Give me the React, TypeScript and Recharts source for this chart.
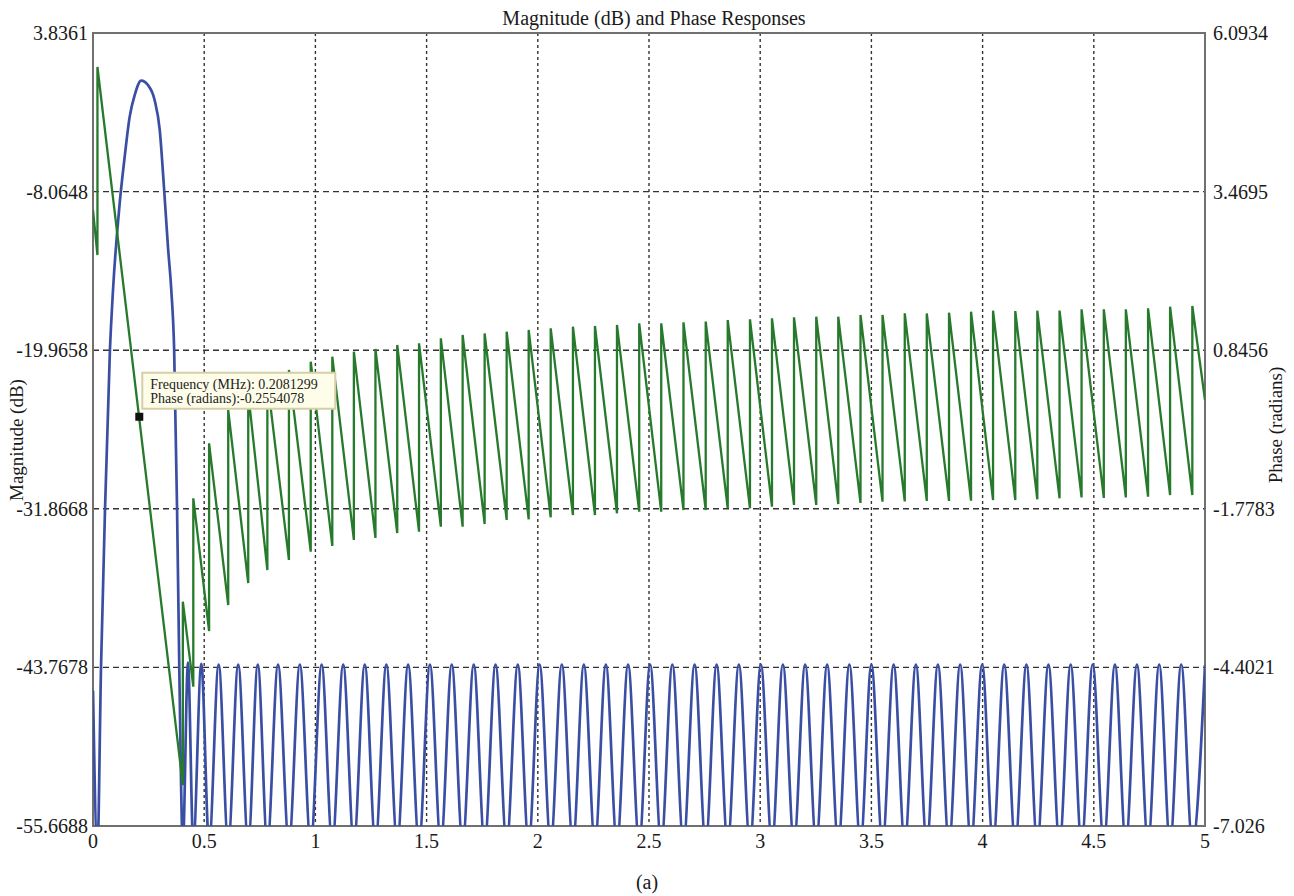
import React from 'react';
import {
  LineChart, Line, XAxis, YAxis, CartesianGrid, ReferenceArea, ReferenceDot,
} from 'recharts';

// frequency axis (MHz)
const FREQ_TICKS = [0, 0.5, 1, 1.5, 2, 2.5, 3, 3.5, 4, 4.5, 5];
const MAG_TICKS = [-55.6688, -43.7678, -31.8668, -19.9658, -8.0648, 3.8361];
const PHASE_TICKS = [-7.026, -4.4021, -1.7783, 0.8456, 3.4695, 6.0934];

// magnitude nulls fall below the axis floor, so they get clipped
const NULL_FLOOR = -57.0;

// main lobe (MHz, dB)
const mainLobeFreq = [0, 0.02, 0.036, 0.054, 0.076, 0.09, 0.12, 0.1425, 0.165, 0.1875, 0.217, 0.247, 0.277, 0.3, 0.319, 0.337, 0.352, 0.365, 0.378, 0.388];
const mainLobeDb = [-45.5, -57.5, -43.8, -31.9, -20.0, -15.45, -8.94, -5.45, -2.44, -0.82, 0.26, -0.07, -1.19, -3.44, -7.7, -12.2, -15.45, -20.0, -31.9, -43.8];

// nulls of the stopband = places where the phase jumps by pi
const nullFreq = [
  0.404, 0.451, 0.522, 0.608, 0.698, 0.784, 0.881, 0.979, 1.076, 1.173,
  1.27, 1.368, 1.466, 1.564, 1.662, 1.761, 1.86, 1.959, 2.058, 2.158,
  2.257, 2.356, 2.456, 2.555, 2.655, 2.755, 2.854, 2.954, 3.053, 3.152,
  3.252, 3.351, 3.451, 3.55, 3.65, 3.749, 3.849, 3.948, 4.047, 4.147,
  4.246, 4.346, 4.445, 4.545, 4.644, 4.744, 4.843, 4.943,
];

// sidelobe peaks
const sidePeakFreq = [
  0.427, 0.487, 0.565, 0.653, 0.741, 0.832, 0.93, 1.028, 1.125, 1.222,
  1.319, 1.417, 1.515, 1.613, 1.712, 1.81, 1.91, 2.008, 2.108, 2.207,
  2.306, 2.406, 2.505, 2.605, 2.705, 2.804, 2.904, 3.003, 3.102, 3.202,
  3.301, 3.401, 3.5, 3.6, 3.7, 3.799, 3.899, 3.998, 4.097, 4.197,
  4.296, 4.396, 4.495, 4.595, 4.694, 4.794, 4.893, 5.0,
];
const sidePeakDb = [
  -43.4, -43.5, -43.55, -43.55, -43.55, -43.55, -43.55, -43.55, -43.55, -43.55,
  -43.55, -43.55, -43.55, -43.55, -43.55, -43.55, -43.55, -43.55, -43.55, -43.55,
  -43.55, -43.55, -43.55, -43.55, -43.55, -43.55, -43.55, -43.55, -43.55, -43.55,
  -43.55, -43.55, -43.55, -43.55, -43.55, -43.55, -43.55, -43.55, -43.55, -43.55,
  -43.55, -43.55, -43.55, -43.55, -43.55, -43.55, -43.55, -43.6,
];

// phase (radians): linear part before the first stopband null
const phaseStartFreq = [0, 0.02, 0.02];
const phaseStartRad = [3.165, 2.42, 5.531];
// value just before each jump / just after it
const toothEndRad = [
  -6.35, -4.721, -3.8, -3.37, -3.006, -2.791, -2.625, -2.488, -2.393, -2.294,
  -2.261, -2.179, -2.157, -2.074, -2.074, -2.03, -1.963, -1.952, -1.919, -1.881,
  -1.881, -1.853, -1.826, -1.826, -1.798, -1.798, -1.77, -1.77, -1.743, -1.715,
  -1.715, -1.699, -1.682, -1.661, -1.657, -1.649, -1.649, -1.644, -1.633, -1.633,
  -1.621, -1.605, -1.591, -1.599, -1.591, -1.578, -1.55, -1.55,
];
const toothStartRad = [
  -3.315, -1.605, -0.695, -0.144, 0.137, 0.353, 0.518, 0.655, 0.738, 0.821,
  0.866, 0.932, 0.96, 1.042, 1.097, 1.122, 1.152, 1.18, 1.208, 1.234,
  1.246, 1.263, 1.291, 1.291, 1.307, 1.32, 1.345, 1.357, 1.373, 1.39,
  1.4, 1.4, 1.428, 1.428, 1.456, 1.453, 1.466, 1.483, 1.499, 1.494,
  1.499, 1.502, 1.522, 1.522, 1.522, 1.539, 1.565, 1.577,
];
const phaseEndFreq = [5];
const phaseEndRad = [0.021];

// data cursor
const CURSOR_FREQ = 0.2081299;
const CURSOR_PHASE = -0.2554078;

const magData = [
  ...mainLobeFreq.map((f, i) => ({ f, db: mainLobeDb[i] })),
  ...nullFreq.flatMap((f, i) => [
    { f, db: NULL_FLOOR },
    { f: sidePeakFreq[i], db: sidePeakDb[i] },
  ]),
];

const phaseData = [
  ...phaseStartFreq.map((f, i) => ({ f, rad: phaseStartRad[i] })),
  ...nullFreq.flatMap((f, i) => [
    { f, rad: toothEndRad[i] },
    { f, rad: toothStartRad[i] },
  ]),
  ...phaseEndFreq.map((f, i) => ({ f, rad: phaseEndRad[i] })),
];

const FONT = '"Liberation Serif", "Times New Roman", serif';
const BLUE = '#3a4fa4';
const GREEN = '#277a2c';
const tickStyle = { fill: '#1a1a1a', fontSize: 20, fontFamily: FONT };

const CursorMark = ({ cx, cy }: any) => {
  if (cx == null || cy == null) return null;
  return (
    <g>
      <rect x={cx + 3} y={cy - 44} width={193} height={36} fill="#fefde9" stroke="#d6cfa6" strokeWidth={2} />
      <text x={cx + 11} y={cy - 28} fontSize={14} fontFamily={FONT} fill="#222">
        Frequency (MHz): {String(CURSOR_FREQ)}
      </text>
      <text x={cx + 11} y={cy - 13.5} fontSize={14} fontFamily={FONT} fill="#222">
        Phase (radians):{String(CURSOR_PHASE)}
      </text>
      <rect x={cx - 4} y={cy - 4} width={8} height={8} fill="#111" />
    </g>
  );
};

export default function App() {
  return (
    <div style={{ position: 'absolute', left: 0, top: 0, width: 1294, height: 896, background: '#fff', fontFamily: FONT }}>
      <LineChart width={1294} height={896} margin={{ top: 33, right: 0, bottom: 40, left: 0 }}>
        <CartesianGrid yAxisId="mag" vertical={false} stroke="#333" strokeWidth={1.4} strokeDasharray="6 4" />
        <CartesianGrid yAxisId="mag" horizontal={false} stroke="#333" strokeWidth={1.4} strokeDasharray="3 3" />
        <XAxis
          dataKey="f"
          type="number"
          domain={[0, 5]}
          ticks={FREQ_TICKS}
          interval={0}
          allowDataOverflow
          height={30}
          tickLine={false}
          tickSize={0}
          tickMargin={8}
          axisLine={false}
          tick={tickStyle}
        />
        <YAxis
          yAxisId="mag"
          orientation="left"
          type="number"
          domain={[-55.6688, 3.8361]}
          ticks={MAG_TICKS}
          interval={0}
          allowDataOverflow
          width={93}
          tickLine={false}
          tickSize={0}
          tickMargin={5}
          axisLine={false}
          tick={tickStyle}
          tickFormatter={(v: number) => String(v)}
        />
        <YAxis
          yAxisId="phase"
          orientation="right"
          type="number"
          domain={[-7.026, 6.0934]}
          ticks={PHASE_TICKS}
          interval={0}
          allowDataOverflow
          width={89}
          tickLine={false}
          tickSize={0}
          tickMargin={8}
          axisLine={false}
          tick={tickStyle}
          tickFormatter={(v: number) => String(v)}
        />
        <Line
          yAxisId="mag"
          data={magData}
          dataKey="db"
          type="monotone"
          stroke={BLUE}
          strokeWidth={2.7}
          dot={false}
          activeDot={false}
          isAnimationActive={false}
        />
        <Line
          yAxisId="phase"
          data={phaseData}
          dataKey="rad"
          type="linear"
          stroke={GREEN}
          strokeWidth={2.3}
          dot={false}
          activeDot={false}
          isAnimationActive={false}
        />
        <ReferenceArea
          yAxisId="mag"
          x1={0}
          x2={5}
          y1={-55.6688}
          y2={3.8361}
          fill="none"
          stroke="#707070"
          strokeWidth={2}
        />
        <ReferenceDot
          yAxisId="phase"
          x={CURSOR_FREQ}
          y={CURSOR_PHASE}
          shape={(p: any) => <CursorMark {...p} />}
        />
      </LineChart>
      <svg width={1294} height={896} style={{ position: 'absolute', left: 0, top: 0, pointerEvents: 'none' }}>
        <text x={654} y={25} textAnchor="middle" fontSize={20} fontFamily={FONT} fill="#1a1a1a">
          Magnitude (dB) and Phase Responses
        </text>
        <text x={23} y={440} textAnchor="middle" fontSize={19} fontFamily={FONT} fill="#1a1a1a" transform="rotate(-90 23 440)">
          Magnitude (dB)
        </text>
        <text x={1282} y={425} textAnchor="middle" fontSize={19} fontFamily={FONT} fill="#1a1a1a" transform="rotate(-90 1282 425)">
          Phase (radians)
        </text>
        <text x={647} y={889} textAnchor="middle" fontSize={20} fontFamily={FONT} fill="#1a1a1a">
          (a)
        </text>
      </svg>
    </div>
  );
}
